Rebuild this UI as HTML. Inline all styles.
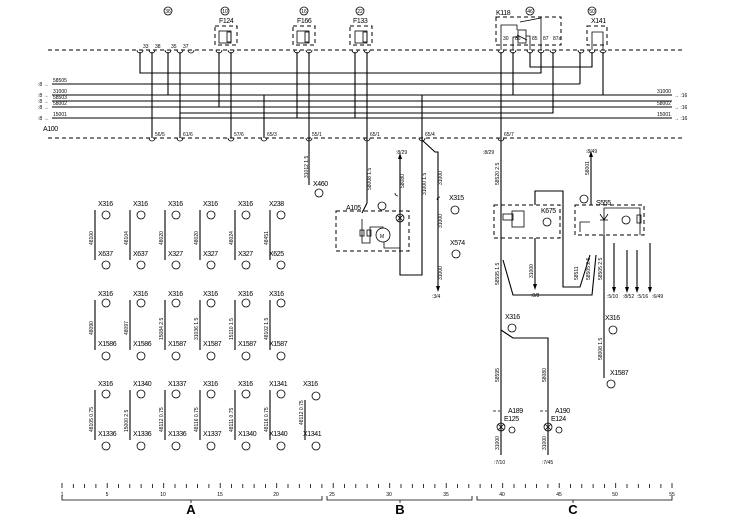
<!DOCTYPE html>
<html><head><meta charset="utf-8"><style>
html,body{margin:0;padding:0;background:#fff}
svg{display:block}
text{font-family:"Liberation Sans",sans-serif;fill:#000}
.s{font-size:5px}
.m{font-size:7px;letter-spacing:-0.4px}
.w{stroke:#000;stroke-width:1.1;fill:none}
.d{stroke:#000;stroke-width:1;fill:none;stroke-dasharray:4 3}
.t{stroke:#000;stroke-width:0.8;fill:none}
</style></head><body>
<svg width="744" height="518" viewBox="0 0 744 518" xmlns="http://www.w3.org/2000/svg">
<line class="d" x1="48" y1="50" x2="683" y2="50"/>
<line class="d" x1="48" y1="138" x2="683" y2="138"/>
<g class="t"><circle cx="168" cy="11" r="4"/><circle cx="225" cy="11" r="4"/><circle cx="304" cy="11" r="4"/><circle cx="360" cy="11" r="4"/><circle cx="530" cy="11" r="4"/><circle cx="592" cy="11" r="4"/></g>
<g class="s" text-anchor="middle"><text x="168" y="13">36</text><text x="225" y="13">10</text><text x="304" y="13">16</text><text x="360" y="13">22</text><text x="530" y="13">46</text><text x="592" y="13">50</text></g>
<g class="d"><rect x="215" y="26" width="22" height="19"/><rect x="293" y="26" width="22" height="19"/><rect x="350" y="26" width="22" height="19"/><rect x="496" y="17" width="65" height="28"/><rect x="587" y="26" width="20" height="19"/></g>
<g class="t"><rect x="219" y="31" width="12" height="12"/><rect x="227" y="32" width="4" height="10"/><rect x="297" y="31" width="12" height="12"/><rect x="305" y="32" width="4" height="10"/><rect x="355" y="31" width="12" height="12"/><rect x="363" y="32" width="4" height="10"/></g>
<g class="m"><text x="219" y="23">F124</text><text x="297" y="23">F166</text><text x="353" y="23">F133</text><text x="496" y="15">K118</text><text x="591" y="23">X141</text></g>
<g class="t"><polyline points="501,50 501,25 517,25 517,30"/><rect x="518" y="30" width="8" height="13"/><polyline points="513,50 513,37 518,37"/><polyline points="520,22 541,18 541,50"/><line x1="517" y1="35" x2="527" y2="40"/><polyline points="530,50 530,36 526,36"/><polyline points="592,50 592,32 603,32 603,50"/></g>
<g class="t">
<path d="M137,50a3,3 0 0 0 6,0M149,50a3,3 0 0 0 6,0M165,50a3,3 0 0 0 6,0M177,50a3,3 0 0 0 6,0M188,50a3,3 0 0 0 6,0M216,50a3,3 0 0 0 6,0M228,50a3,3 0 0 0 6,0M294,50a3,3 0 0 0 6,0M306,50a3,3 0 0 0 6,0M352,50a3,3 0 0 0 6,0M364,50a3,3 0 0 0 6,0M498,50a3,3 0 0 0 6,0M510,50a3,3 0 0 0 6,0M527,50a3,3 0 0 0 6,0M538,50a3,3 0 0 0 6,0M550,50a3,3 0 0 0 6,0M578,50a3,3 0 0 0 6,0M589,50a3,3 0 0 0 6,0M600,50a3,3 0 0 0 6,0"/>
<path d="M149,138a3,3 0 0 0 6,0M177,138a3,3 0 0 0 6,0M228,138a3,3 0 0 0 6,0M261,138a3,3 0 0 0 6,0M306,138a3,3 0 0 0 6,0M364,138a3,3 0 0 0 6,0M419,138a3,3 0 0 0 6,0M498,138a3,3 0 0 0 6,0"/>
</g>
<g class="s"><text x="143" y="48">33</text><text x="155" y="48">38</text><text x="171" y="48">35</text><text x="183" y="48">37</text><text x="155" y="136">56/5</text><text x="183" y="136">61/6</text><text x="234" y="136">57/6</text><text x="267" y="136">65/3</text><text x="312" y="136">55/1</text><text x="370" y="136">65/1</text><text x="425" y="136">65/4</text><text x="504" y="136">65/7</text>
<text x="503" y="40">30</text><text x="515" y="40">86</text><text x="532" y="40">85</text><text x="543" y="40">87</text><text x="553" y="40">87a</text></g>
<g class="w">
<polyline points="140,52 140,73 541,73 541,52"/>
<line x1="52" y1="84" x2="580" y2="84"/><line x1="580" y1="84" x2="580" y2="52"/>
<line x1="52" y1="95" x2="672" y2="95"/>
<line x1="52" y1="101" x2="672" y2="101"/>
<line x1="52" y1="107" x2="672" y2="107"/>
<polyline points="180,113 553,113 553,52"/>
<line x1="52" y1="118" x2="672" y2="118"/>
<line x1="152" y1="52" x2="152" y2="138"/><line x1="168" y1="52" x2="168" y2="95"/><line x1="180" y1="52" x2="180" y2="138"/>
<line x1="219" y1="52" x2="219" y2="107"/><line x1="231" y1="52" x2="231" y2="138"/>
<line x1="297" y1="52" x2="297" y2="118"/><line x1="309" y1="52" x2="309" y2="138"/>
<line x1="355" y1="52" x2="355" y2="118"/><line x1="367" y1="52" x2="367" y2="138"/>
<line x1="264" y1="95" x2="264" y2="138"/>
<line x1="501" y1="52" x2="501" y2="138"/><line x1="513" y1="52" x2="513" y2="95"/>
<polyline points="530,52 530,67 592,67 592,52"/><line x1="603" y1="52" x2="603" y2="95"/>
<line x1="422" y1="95" x2="422" y2="138"/>
</g>
<g class="m"><text x="43" y="131">A100</text></g>
<g class="s"><text x="38" y="86">:8 →</text><text x="38" y="97">:8 →</text><text x="38" y="103">:8 →</text><text x="38" y="109">:8 →</text><text x="38" y="120">:8 →</text>
<text x="53" y="82">58505</text><text x="53" y="93">31000</text><text x="53" y="99">58503</text><text x="53" y="105">58002</text><text x="53" y="116">15001</text>
<text x="657" y="93">31000</text><text x="657" y="105">58002</text><text x="657" y="116">15001</text><text x="674" y="97">→ :16</text><text x="674" y="109">→ :16</text><text x="674" y="120">→ :16</text></g>
<g class="w"><line x1="309" y1="138" x2="309" y2="185"/></g>
<g class="s"><text transform="translate(308,178) rotate(-90)">31012 1.5</text></g>
<text class="m" x="313" y="186">X460</text><circle class="t" cx="319" cy="193" r="4"/>
<g class="w">
<polyline points="367,138 367,203"/><polyline points="367,203 362,213"/>
<polyline points="400,158 400,275 422,275 422,138"/>
<polyline points="422,140 435,152 438,152 438,288"/>
</g>
<path d="M400,153 l-2,6 h4z M438,292 l-2,-6 h4z"/>
<rect class="d" x="336" y="211" width="73" height="40"/>
<text class="m" x="346" y="210">A105</text>
<g class="t"><circle cx="382" cy="206" r="4"/><circle cx="400" cy="218" r="4"/><path d="M397,215l6,6M403,215l-6,6"/><circle cx="383" cy="235" r="7"/><polyline points="362,219 362,243 370,243 370,227 383,227 383,228"/><rect x="360" y="230" width="4" height="6"/><rect x="367" y="230" width="4" height="6"/><polyline points="384,242 384,248 400,248"/><path d="M398,196a3,3 0 0 1 -3,-3M437,200a3,3 0 0 1 3,-3"/></g>
<text class="s" x="380" y="238">M</text>
<g class="s"><text x="396" y="154">:8/29</text><text x="432" y="298">:3/4</text><text transform="translate(371,190) rotate(-90)">58008 1.5</text><text transform="translate(404,188) rotate(-90)">58080</text><text transform="translate(426,195) rotate(-90)">31000 1.5</text><text transform="translate(442,185) rotate(-90)">31000</text><text transform="translate(442,228) rotate(-90)">31000</text><text transform="translate(442,280) rotate(-90)">31000</text></g>
<g class="m"><text x="449" y="200">X315</text><text x="450" y="245">X574</text></g>
<g class="t"><circle cx="455" cy="210" r="4"/><circle cx="456" cy="254" r="4"/></g>
<g class="w">
<line x1="501" y1="138" x2="501" y2="455"/>
<polyline points="535,205 535,191 563,191 563,287 580,287 590,255"/>
<line x1="535" y1="238" x2="535" y2="285"/>
<polyline points="503,260 513,295 592,295 596,255"/>
<polyline points="501,330 513,338 548,338 548,455"/>
<line x1="591" y1="156" x2="591" y2="205"/>
<polyline points="604,235 604,378"/>
<line x1="614" y1="243" x2="614" y2="288"/><line x1="627" y1="250" x2="627" y2="288"/><line x1="637" y1="250" x2="637" y2="288"/><line x1="650" y1="243" x2="650" y2="288"/>
</g>
<path d="M591,151 l-2,6 h4z M535,290 l-2,-6 h4z M614,293 l-2,-6 h4z M627,293 l-2,-6 h4z M637,293 l-2,-6 h4z M650,293 l-2,-6 h4z"/>
<rect class="d" x="494" y="205" width="66" height="33"/><rect class="d" x="575" y="205" width="69" height="30"/>
<g class="t"><rect x="512" y="211" width="12" height="16"/><rect x="503" y="214" width="10" height="6"/><circle cx="547" cy="222" r="4"/><circle cx="584" cy="199" r="4"/><polyline points="604,235 604,208 640,208 640,235"/><circle cx="626" cy="220" r="4"/><rect x="637" y="215" width="4" height="8"/><path d="M600,220h8M600,214l4,6l4,-6"/><polyline points="580,232 580,222 590,222"/>
<line x1="493" y1="411" x2="500" y2="411" stroke-dasharray="3 2"/><line x1="540" y1="411" x2="547" y2="411" stroke-dasharray="3 2"/>
<circle cx="501" cy="427" r="4"/><path d="M498,424l6,6M504,424l-6,6"/><circle cx="548" cy="427" r="4"/><path d="M545,424l6,6M551,424l-6,6"/><circle cx="512" cy="430" r="3"/><circle cx="559" cy="430" r="3"/><circle cx="512" cy="328" r="4"/><circle cx="613" cy="330" r="4"/><circle cx="611" cy="384" r="4"/></g>
<g class="m"><text x="541" y="213">K675</text><text x="596" y="205">S555</text><text x="505" y="319">X316</text><text x="605" y="320">X316</text><text x="610" y="375">X1587</text><text x="508" y="413">A189</text><text x="555" y="413">A190</text><text x="504" y="421">E125</text><text x="551" y="421">E124</text></g>
<g class="s"><text x="483" y="154">:8/29</text><text x="586" y="153">:8/49</text><text x="531" y="297">:8/8</text><text x="607" y="298">:5/10</text><text x="623" y="298">:8/52</text><text x="637" y="298">:5/16</text><text x="652" y="298">:6/49</text><text x="494" y="464">:7/10</text><text x="542" y="464">:7/45</text>
<text transform="translate(499,185) rotate(-90)">58520 2.5</text><text transform="translate(499,285) rotate(-90)">58595 1.5</text><text transform="translate(499,382) rotate(-90)">58595</text><text transform="translate(546,382) rotate(-90)">58080</text><text transform="translate(589,175) rotate(-90)">58001</text><text transform="translate(578,280) rotate(-90)">58511</text><text transform="translate(590,280) rotate(-90)">58505 2.5</text><text transform="translate(602,280) rotate(-90)">58505 2.5</text><text transform="translate(602,360) rotate(-90)">58008 1.5</text><text transform="translate(533,278) rotate(-90)">31000</text><text transform="translate(499,450) rotate(-90)">31000</text><text transform="translate(546,450) rotate(-90)">31000</text></g>
<g class="w">
<line x1="95" y1="210" x2="95" y2="260"/><line x1="130" y1="210" x2="130" y2="260"/><line x1="165" y1="210" x2="165" y2="260"/><line x1="200" y1="210" x2="200" y2="260"/><line x1="235" y1="210" x2="235" y2="260"/><line x1="270" y1="210" x2="270" y2="260"/>
<line x1="95" y1="300" x2="95" y2="350"/><line x1="130" y1="300" x2="130" y2="350"/><line x1="165" y1="300" x2="165" y2="350"/><line x1="200" y1="300" x2="200" y2="350"/><line x1="235" y1="300" x2="235" y2="350"/><line x1="270" y1="300" x2="270" y2="350"/>
<line x1="95" y1="390" x2="95" y2="440"/><line x1="130" y1="390" x2="130" y2="440"/><line x1="165" y1="390" x2="165" y2="440"/><line x1="200" y1="390" x2="200" y2="440"/><line x1="235" y1="390" x2="235" y2="440"/><line x1="270" y1="390" x2="270" y2="440"/><line x1="305" y1="400" x2="305" y2="440"/>
</g>
<g class="t">
<circle cx="106" cy="215" r="4"/><circle cx="141" cy="215" r="4"/><circle cx="176" cy="215" r="4"/><circle cx="211" cy="215" r="4"/><circle cx="246" cy="215" r="4"/><circle cx="281" cy="215" r="4"/>
<circle cx="106" cy="265" r="4"/><circle cx="141" cy="265" r="4"/><circle cx="176" cy="265" r="4"/><circle cx="211" cy="265" r="4"/><circle cx="246" cy="265" r="4"/><circle cx="281" cy="265" r="4"/>
<circle cx="106" cy="303" r="4"/><circle cx="141" cy="303" r="4"/><circle cx="176" cy="303" r="4"/><circle cx="211" cy="303" r="4"/><circle cx="246" cy="303" r="4"/><circle cx="281" cy="303" r="4"/>
<circle cx="106" cy="356" r="4"/><circle cx="141" cy="356" r="4"/><circle cx="176" cy="356" r="4"/><circle cx="211" cy="356" r="4"/><circle cx="246" cy="356" r="4"/><circle cx="281" cy="356" r="4"/>
<circle cx="106" cy="394" r="4"/><circle cx="141" cy="394" r="4"/><circle cx="176" cy="394" r="4"/><circle cx="211" cy="394" r="4"/><circle cx="246" cy="394" r="4"/><circle cx="281" cy="394" r="4"/><circle cx="316" cy="396" r="4"/>
<circle cx="106" cy="446" r="4"/><circle cx="141" cy="446" r="4"/><circle cx="176" cy="446" r="4"/><circle cx="211" cy="446" r="4"/><circle cx="246" cy="446" r="4"/><circle cx="281" cy="446" r="4"/><circle cx="316" cy="446" r="4"/>
</g>
<g class="m">
<text x="98" y="206">X316</text><text x="133" y="206">X316</text><text x="168" y="206">X316</text><text x="203" y="206">X316</text><text x="238" y="206">X316</text><text x="269" y="206">X238</text>
<text x="98" y="256">X637</text><text x="133" y="256">X637</text><text x="168" y="256">X327</text><text x="203" y="256">X327</text><text x="238" y="256">X327</text><text x="269" y="256">X625</text>
<text x="98" y="296">X316</text><text x="133" y="296">X316</text><text x="168" y="296">X316</text><text x="203" y="296">X316</text><text x="238" y="296">X316</text><text x="269" y="296">X316</text>
<text x="98" y="346">X1586</text><text x="133" y="346">X1586</text><text x="168" y="346">X1587</text><text x="203" y="346">X1587</text><text x="238" y="346">X1587</text><text x="269" y="346">X1587</text>
<text x="98" y="386">X316</text><text x="133" y="386">X1340</text><text x="168" y="386">X1337</text><text x="203" y="386">X316</text><text x="238" y="386">X316</text><text x="269" y="386">X1341</text><text x="303" y="386">X316</text>
<text x="98" y="436">X1336</text><text x="133" y="436">X1336</text><text x="168" y="436">X1336</text><text x="203" y="436">X1337</text><text x="238" y="436">X1340</text><text x="269" y="436">X1340</text><text x="303" y="436">X1341</text>
</g>
<g class="s">
<text transform="translate(93,245) rotate(-90)">48100</text><text transform="translate(128,245) rotate(-90)">48104</text><text transform="translate(163,245) rotate(-90)">48020</text><text transform="translate(198,245) rotate(-90)">48020</text><text transform="translate(233,245) rotate(-90)">48024</text><text transform="translate(268,245) rotate(-90)">48451</text>
<text transform="translate(93,335) rotate(-90)">48090</text><text transform="translate(128,335) rotate(-90)">48097</text><text transform="translate(163,340) rotate(-90)">15084 2.5</text><text transform="translate(198,340) rotate(-90)">31036 1.5</text><text transform="translate(233,340) rotate(-90)">15110 1.5</text><text transform="translate(268,340) rotate(-90)">48102 1.5</text>
<text transform="translate(93,432) rotate(-90)">48105 0.75</text><text transform="translate(128,432) rotate(-90)">15000 2.5</text><text transform="translate(163,432) rotate(-90)">48112 0.75</text><text transform="translate(198,432) rotate(-90)">48116 0.75</text><text transform="translate(233,432) rotate(-90)">48111 0.75</text><text transform="translate(268,432) rotate(-90)">48116 0.75</text><text transform="translate(303,425) rotate(-90)">48112 0.75</text>
</g>
<g class="t">
<line x1="62" y1="483" x2="62" y2="488"/><line x1="73.3" y1="484" x2="73.3" y2="488"/><line x1="84.6" y1="484" x2="84.6" y2="488"/><line x1="95.9" y1="484" x2="95.9" y2="488"/><line x1="107.2" y1="483" x2="107.2" y2="488"/><line x1="118.5" y1="484" x2="118.5" y2="488"/><line x1="129.8" y1="484" x2="129.8" y2="488"/><line x1="141.1" y1="484" x2="141.1" y2="488"/><line x1="152.4" y1="484" x2="152.4" y2="488"/><line x1="163.7" y1="483" x2="163.7" y2="488"/><line x1="175" y1="484" x2="175" y2="488"/><line x1="186.3" y1="484" x2="186.3" y2="488"/><line x1="197.6" y1="484" x2="197.6" y2="488"/><line x1="208.9" y1="484" x2="208.9" y2="488"/><line x1="220.2" y1="483" x2="220.2" y2="488"/><line x1="231.5" y1="484" x2="231.5" y2="488"/><line x1="242.8" y1="484" x2="242.8" y2="488"/><line x1="254.1" y1="484" x2="254.1" y2="488"/><line x1="265.4" y1="484" x2="265.4" y2="488"/><line x1="276.7" y1="483" x2="276.7" y2="488"/><line x1="288" y1="484" x2="288" y2="488"/><line x1="299.3" y1="484" x2="299.3" y2="488"/><line x1="310.6" y1="484" x2="310.6" y2="488"/><line x1="321.9" y1="484" x2="321.9" y2="488"/><line x1="333.2" y1="483" x2="333.2" y2="488"/><line x1="344.5" y1="484" x2="344.5" y2="488"/><line x1="355.8" y1="484" x2="355.8" y2="488"/><line x1="367.1" y1="484" x2="367.1" y2="488"/><line x1="378.4" y1="484" x2="378.4" y2="488"/><line x1="389.7" y1="483" x2="389.7" y2="488"/><line x1="401" y1="484" x2="401" y2="488"/><line x1="412.3" y1="484" x2="412.3" y2="488"/><line x1="423.6" y1="484" x2="423.6" y2="488"/><line x1="434.9" y1="484" x2="434.9" y2="488"/><line x1="446.2" y1="483" x2="446.2" y2="488"/><line x1="457.5" y1="484" x2="457.5" y2="488"/><line x1="468.8" y1="484" x2="468.8" y2="488"/><line x1="480.1" y1="484" x2="480.1" y2="488"/><line x1="491.4" y1="484" x2="491.4" y2="488"/><line x1="502.7" y1="483" x2="502.7" y2="488"/><line x1="514" y1="484" x2="514" y2="488"/><line x1="525.3" y1="484" x2="525.3" y2="488"/><line x1="536.6" y1="484" x2="536.6" y2="488"/><line x1="547.9" y1="484" x2="547.9" y2="488"/><line x1="559.2" y1="483" x2="559.2" y2="488"/><line x1="570.5" y1="484" x2="570.5" y2="488"/><line x1="581.8" y1="484" x2="581.8" y2="488"/><line x1="593.1" y1="484" x2="593.1" y2="488"/><line x1="604.4" y1="484" x2="604.4" y2="488"/><line x1="615.7" y1="483" x2="615.7" y2="488"/><line x1="627" y1="484" x2="627" y2="488"/><line x1="638.3" y1="484" x2="638.3" y2="488"/><line x1="649.6" y1="484" x2="649.6" y2="488"/><line x1="660.9" y1="484" x2="660.9" y2="488"/><line x1="672" y1="483" x2="672" y2="488"/>
</g>
<g class="s" text-anchor="middle"><text x="62" y="496">1</text><text x="107" y="496">5</text><text x="163" y="496">10</text><text x="220" y="496">15</text><text x="276" y="496">20</text><text x="332" y="496">25</text><text x="389" y="496">30</text><text x="446" y="496">35</text><text x="502" y="496">40</text><text x="559" y="496">45</text><text x="615" y="496">50</text><text x="672" y="496">55</text></g>
<g class="t" stroke-width="1.2"><polyline points="62,496 62,500 322,500 322,496"/><polyline points="327,496 327,500 472,500 472,496"/><polyline points="477,496 477,500 672,500 672,496"/><line x1="191" y1="500" x2="191" y2="503"/><line x1="400" y1="500" x2="400" y2="503"/><line x1="573" y1="500" x2="573" y2="503"/></g>
<g font-size="13" font-weight="bold" text-anchor="middle"><text x="191" y="514">A</text><text x="400" y="514">B</text><text x="573" y="514">C</text></g>
</svg>
</body></html>
